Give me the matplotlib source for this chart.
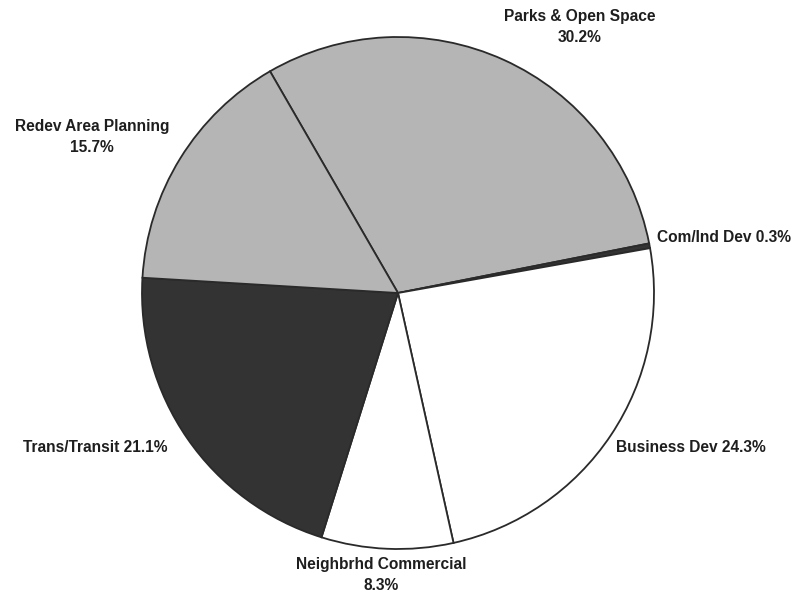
import matplotlib.pyplot as plt

labels = ['Parks & Open Space', 'Com/Ind Dev', 'Business Dev',
          'Neighbrhd Commercial', 'Trans/Transit', 'Redev Area Planning']
shares = [30.2, 0.3, 24.3, 8.3, 21.1, 15.7]
fills = ['#b5b5b5', '#333333', '#ffffff', '#ffffff', '#333333', '#b5b5b5']

fig = plt.figure(figsize=(7.97, 5.96), dpi=100)
ax = fig.add_axes([0, 0, 1, 1])

ax.pie(shares, colors=fills, startangle=120, counterclock=False,
       center=(398, 303), radius=256,
       wedgeprops=dict(edgecolor='#2a2a2a', linewidth=1.3))

# pie() resets the limits, so set the pixel-sized frame afterwards
ax.set_xlim(0, 797)
ax.set_ylim(0, 596)
ax.set_aspect('equal')
ax.axis('off')

font = dict(family='Liberation Sans', weight='bold', fontsize=11.2,
            color='#1e1e1e')

def txt(x, y, s, ha='center'):
    ax.text(x, 596 - y, s, ha=ha, va='center', **font)

txt(580, 17, labels[0])
txt(580, 38, f'{shares[0]}%')
txt(657, 238, f'{labels[1]} {shares[1]}%', ha='left')
txt(616, 447, f'{labels[2]} {shares[2]}%', ha='left')
txt(381, 565, labels[3])
txt(381, 586, f'{shares[3]}%')
txt(168, 447, f'{labels[4]} {shares[4]}%', ha='right')
txt(92, 126, labels[5])
txt(92, 147, f'{shares[5]}%')

fig.savefig('out.png', dpi=100)
